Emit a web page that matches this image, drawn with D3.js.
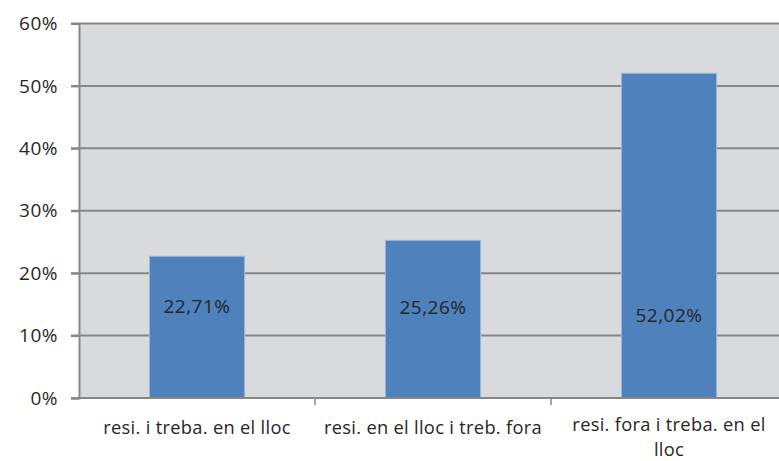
<!DOCTYPE html>
<html lang="en">
<head>
<meta charset="UTF-8">
<title>resi / treba</title>
<style>
  body { margin: 0; background: #fff; }
  svg { display: block; }
</style>
</head>
<body>
<svg></svg>
<script src="https://cdn.jsdelivr.net/npm/d3@7/dist/d3.min.js"></script>
<script>
    const categories = ["resi. i treba. en el lloc", "resi. en el lloc i treb. fora", "resi. fora i treba. en el lloc"];
    const catLines = [["resi. i treba. en el lloc"], ["resi. en el lloc i treb. fora"], ["resi. fora i treba. en el", "lloc"]];
    const values = [22.71, 25.26, 52.02];
    const valueLabels = ["22,71%", "25,26%", "52,02%"];
    const labelAt = [13.6, 13.5, 12.2];   // baseline of the value labels, in % units
    const yTicks = [0, 10, 20, 30, 40, 50, 60];

    const width = 779, height = 461;
    // the plot runs a little past the right edge of the picture (cropped)
    const margin = {top: 23.5, right: -8, bottom: 63, left: 79};
    const font = "'Open Sans', sans-serif";

    const svg = d3.select("svg")
        .attr("width", width)
        .attr("height", height)
        .style("font-family", font)
        .style("letter-spacing", "0.5px");

    const x = d3.scaleBand()
        .domain(categories)
        .range([margin.left, width - margin.right])
        .paddingInner(0.597)
        .paddingOuter(0.2985);

    const y = d3.scaleLinear()
        .domain([0, 60])
        .range([height - margin.bottom, margin.top]);

    // plot background
    svg.append("rect")
        .attr("x", margin.left)
        .attr("y", y(60))
        .attr("width", width - margin.right - margin.left)
        .attr("height", y(0) - y(60))
        .attr("fill", "#d9dadc");

    // gridlines
    svg.append("g")
        .selectAll("line")
        .data(yTicks.filter(d => d > 0))
        .join("line")
        .attr("x1", margin.left - 8)
        .attr("x2", width)
        .attr("y1", d => y(d))
        .attr("y2", d => y(d))
        .attr("stroke", "#878787")
        .attr("stroke-width", 2);

    // bars
    svg.append("g")
        .selectAll("rect")
        .data(values)
        .join("rect")
        .attr("x", (d, i) => x(categories[i]))
        .attr("y", d => y(d))
        .attr("width", x.bandwidth())
        .attr("height", d => y(0) - y(d))
        .attr("fill", "#4f81bd")
        .attr("stroke", "#9fb6d8")
        .attr("stroke-width", 1);

    // value labels
    svg.append("g")
        .selectAll("text")
        .data(valueLabels)
        .join("text")
        .attr("x", (d, i) => x(categories[i]) + x.bandwidth() / 2)
        .attr("y", (d, i) => y(labelAt[i]))
        .attr("text-anchor", "middle")
        .attr("font-size", 19)
        .attr("fill", "#262626")
        .text(d => d);

    // y axis
    const yAxis = d3.axisLeft(y)
        .tickValues(yTicks)
        .tickSize(8)
        .tickPadding(13)
        .tickFormat(d => d + "%");
    const gy = svg.append("g")
        .attr("transform", `translate(${margin.left},0)`)
        .call(yAxis);
    gy.select(".domain").attr("stroke", "#878787").attr("stroke-width", 2);
    gy.selectAll(".tick line").attr("stroke", "#878787").attr("stroke-width", 2);
    gy.selectAll(".tick text")
        .attr("font-family", font)
        .attr("font-size", 19)
        .attr("fill", "#262626");

    // x axis baseline with category ticks
    const gx = svg.append("g");
    gx.append("line")
        .attr("x1", margin.left - 8)
        .attr("x2", width)
        .attr("y1", y(0))
        .attr("y2", y(0))
        .attr("stroke", "#878787")
        .attr("stroke-width", 2);
    gx.selectAll("line.sep")
        .data(categories.slice(1))
        .join("line")
        .attr("class", "sep")
        .attr("x1", d => x(d) - x.step() * x.paddingInner() / 2)
        .attr("x2", d => x(d) - x.step() * x.paddingInner() / 2)
        .attr("y1", y(0))
        .attr("y2", y(0) + 7)
        .attr("stroke", "#878787")
        .attr("stroke-width", 1.5);

    gx.selectAll("text")
        .data(catLines)
        .join("text")
        .attr("x", (d, i) => x(categories[i]) + x.bandwidth() / 2)
        .attr("y", d => y(0) + 35.5 - (d.length - 1) * 2.5)
        .attr("text-anchor", "middle")
        .attr("font-size", 18.3)
        .style("letter-spacing", "0.3px")
        .attr("fill", "#262626")
        .each(function(lines) {
            const t = d3.select(this);
            const cx = t.attr("x");
            lines.forEach((line, k) => {
                t.append("tspan")
                    .attr("x", cx)
                    .attr("dy", k === 0 ? 0 : 25)
                    .text(line);
            });
        });
</script>
</body>
</html>
